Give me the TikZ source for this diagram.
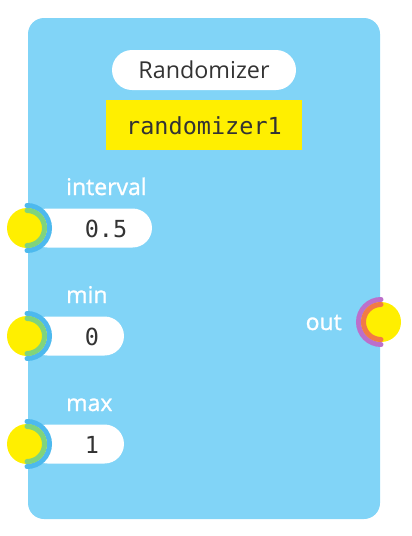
\documentclass[tikz,border=0pt]{standalone}
\usepackage{fontspec}
\setmainfont{Open Sans}
\newfontfamily\labelfont[FakeBold=1.2]{Open Sans}
\newfontfamily\codefont{DejaVu Sans Mono}
\definecolor{panelblue}{HTML}{81D4F7}
\definecolor{portyellow}{HTML}{FFEF00}
\definecolor{inblue}{HTML}{4DB9EE}
\definecolor{ingreen}{HTML}{80D47C}
\definecolor{outpurple}{HTML}{BC6FCB}
\definecolor{outorange}{HTML}{F27A45}
\definecolor{ink}{HTML}{333333}
\tikzset{
  panel/.style={fill=panelblue, rounded corners=16pt},
  titlepill/.style={fill=white, rounded corners=20pt},
  namebox/.style={fill=portyellow},
  valuepill/.style={fill=white, rounded corners=19.5pt},
  portlabel/.style={text=white, font=\labelfont\fontsize{23}{26}\selectfont, inner sep=0pt},
  valuetext/.style={text=ink, font=\codefont\fontsize{23.5}{26}\selectfont, inner sep=0pt},
  portdot/.style={fill=portyellow},
  ringouter/.style={line width=5pt, line cap=round},
  ringinner/.style={line width=5pt, line cap=round},
}
\begin{document}
\begin{tikzpicture}[x=1pt,y=-1pt]
\useasboundingbox (0,0) rectangle (412,536);
% block body
\path[panel] (28,18) rectangle (380,519);
% title and instance name
\path[titlepill] (112,50) rectangle (296,90);
\node[text=ink, font=\fontsize{23.3}{26}\selectfont, inner sep=0pt] (title) at (204,70) {Randomizer};
\path[namebox] (106,100) rectangle (302,150);
\node[text=ink, font=\codefont\fontsize{23.5}{26}\selectfont, inner sep=0pt] (instname) at (204,126) {randomizer1};
% inputs: label, value field, port
\foreach \nm/\lab/\val/\yc/\xr in {intv/interval/0.5/228/152, mn/min/0/336/124, mx/max/1/444/124}{
  \node[portlabel, anchor=base west] (\nm-label) at (66,\yc-33) {\lab};
  \path[valuepill] (28,\yc-19.5) rectangle (\xr,\yc+19.5);
  \node[valuetext] (\nm-value) at ({(\xr+28)/2+16},\yc+1) {\val};
  \node[portdot, circle, minimum size=40pt, inner sep=0pt] (\nm-port) at (27,\yc) {};
  \draw[ringouter, inblue] (27,\yc) ++(-90:22.5) arc[start angle=-90, end angle=90, radius=22.5];
  \draw[ringinner, ingreen] (27,\yc) ++(-90:17.5) arc[start angle=-90, end angle=90, radius=17.5];
}
% output port
\node[portlabel, anchor=base east] (out-label) at (342,330) {out};
\node[portdot, circle, minimum size=40pt, inner sep=0pt] (out-port) at (381,322) {};
\draw[ringouter, outpurple] (381,322) ++(90:22.5) arc[start angle=90, end angle=270, radius=22.5];
\draw[ringinner, outorange] (381,322) ++(90:17.5) arc[start angle=90, end angle=270, radius=17.5];
\end{tikzpicture}
\end{document}
